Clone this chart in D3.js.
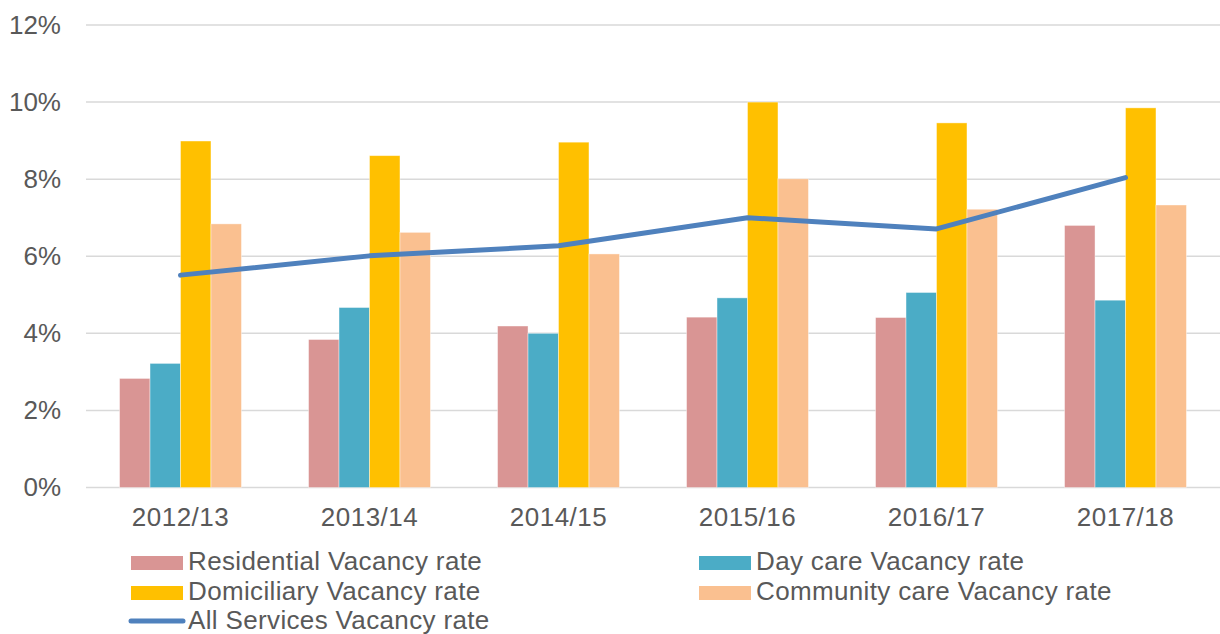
<!DOCTYPE html>
<html>
<head>
<meta charset="utf-8">
<script src="https://cdn.jsdelivr.net/npm/d3@7/dist/d3.min.js"></script>
<style>
  body { margin: 0; background: #fff; }
  text { font-family: "Liberation Sans", Arial, sans-serif; fill: #595959; }
</style>
</head>
<body>
<div id="chart"></div>
<script>
// Data
const years = ['2012/13', '2013/14', '2014/15', '2015/16', '2016/17', '2017/18'];
const residential = [2.83, 3.84, 4.19, 4.42, 4.41, 6.80];
const dayCare = [3.22, 4.67, 4.00, 4.92, 5.06, 4.86];
const domiciliary = [8.99, 8.61, 8.96, 10.00, 9.46, 9.85];
const community = [6.84, 6.62, 6.06, 8.01, 7.22, 7.33];
const allServices = [5.51, 6.01, 6.27, 7.00, 6.71, 8.04];
const yTicks = [0, 2, 4, 6, 8, 10, 12];

const barSeries = [
    { name: 'Residential Vacancy rate', values: residential, color: '#D99594' },
    { name: 'Day care Vacancy rate', values: dayCare, color: '#4BACC6' },
    { name: 'Domiciliary Vacancy rate', values: domiciliary, color: '#FFC000' },
    { name: 'Community care Vacancy rate', values: community, color: '#FAC090' }
];
const lineSeries = { name: 'All Services Vacancy rate', values: allServices, color: '#4F81BD' };

const width = 1220, height = 634;
const plot = { left: 86, right: 1220, top: 25, bottom: 487.5 };

const svg = d3.select('#chart')
    .append('svg')
    .attr('width', width)
    .attr('height', height);

// Scales
const x = d3.scaleBand()
    .domain(years)
    .range([plot.left, plot.right])
    .paddingInner(0.355)
    .paddingOuter(0.1775);

const xInner = d3.scaleBand()
    .domain(barSeries.map(s => s.name))
    .range([0, x.bandwidth()]);

const y = d3.scaleLinear()
    .domain([0, 12])
    .range([plot.bottom, plot.top]);

// Gridlines
svg.append('g')
    .selectAll('line')
    .data(yTicks)
    .join('line')
    .attr('x1', plot.left)
    .attr('x2', plot.right)
    .attr('y1', d => y(d))
    .attr('y2', d => y(d))
    .attr('stroke', '#D9D9D9')
    .attr('stroke-width', 1.5);

// Y axis labels
const yAxis = d3.axisLeft(y)
    .tickValues(yTicks)
    .tickFormat(d => d + '%')
    .tickSize(0)
    .tickPadding(25);

svg.append('g')
    .attr('transform', `translate(${plot.left},0)`)
    .call(yAxis)
    .call(g => g.select('.domain').remove())
    .call(g => g.selectAll('text')
        .attr('fill', '#595959')
        .style('font-size', '26px')
        .style('font-family', '"Liberation Sans", Arial, sans-serif'));

// Bars
barSeries.forEach(s => {
    svg.append('g')
        .selectAll('rect')
        .data(s.values)
        .join('rect')
        .attr('x', (d, i) => x(years[i]) + xInner(s.name))
        .attr('y', d => y(d))
        .attr('width', xInner.bandwidth())
        .attr('height', d => y(0) - y(d))
        .attr('fill', s.color)
        .attr('stroke', '#ffffff')
        .attr('stroke-opacity', 0.5)
        .attr('stroke-width', 0.8);
});

// Line
const line = d3.line()
    .x((d, i) => x(years[i]) + x.bandwidth() / 2)
    .y(d => y(d));

svg.append('path')
    .datum(lineSeries.values)
    .attr('d', line)
    .attr('fill', 'none')
    .attr('stroke', lineSeries.color)
    .attr('stroke-width', 5)
    .attr('stroke-linejoin', 'round')
    .attr('stroke-linecap', 'round');

// X axis labels
const xAxis = d3.axisBottom(x)
    .tickSize(0)
    .tickPadding(20);

svg.append('g')
    .attr('transform', `translate(0,${plot.bottom})`)
    .call(xAxis)
    .call(g => g.select('.domain').remove())
    .call(g => g.selectAll('text')
        .attr('fill', '#595959')
        .style('font-size', '26px')
        .style('letter-spacing', '0.5px')
        .style('font-family', '"Liberation Sans", Arial, sans-serif'));

// Legend
const legendItems = [...barSeries.map(s => ({ ...s, type: 'rect' })), { ...lineSeries, type: 'line' }];
const legendCols = [131, 699];
const legendRows = [570, 600, 629];

legendItems.forEach((item, i) => {
    const lx = legendCols[i % 2];
    const ly = legendRows[Math.floor(i / 2)];
    const g = svg.append('g').attr('transform', `translate(${lx},${ly})`);
    if (item.type === 'rect') {
        g.append('rect')
            .attr('x', 0)
            .attr('y', -14)
            .attr('width', 52)
            .attr('height', 14)
            .attr('fill', item.color);
    } else {
        g.append('line')
            .attr('x1', 0)
            .attr('x2', 52)
            .attr('y1', -8)
            .attr('y2', -8)
            .attr('stroke', item.color)
            .attr('stroke-width', 5)
            .attr('stroke-linecap', 'round');
    }
    g.append('text')
        .attr('x', 57)
        .attr('y', 0)
        .style('font-size', '26px')
        .style('letter-spacing', '0.35px')
        .text(item.name);
});
</script>
</body>
</html>
